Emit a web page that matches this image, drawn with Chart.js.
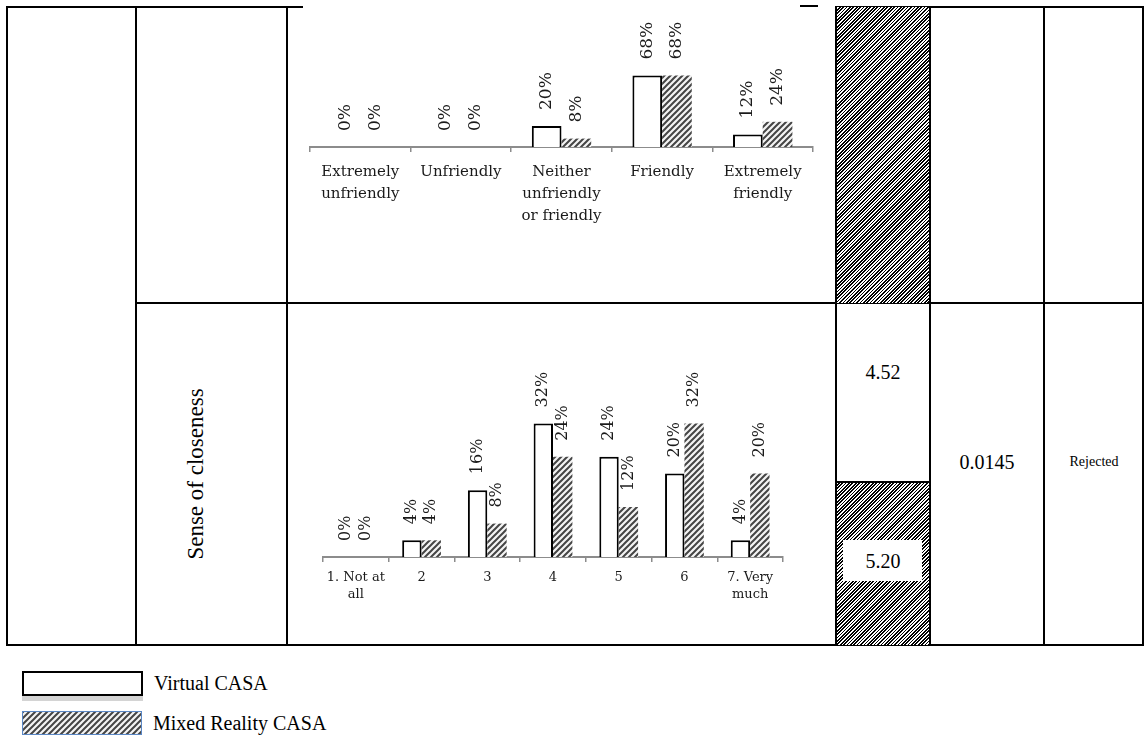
<!DOCTYPE html>
<html>
<head>
<meta charset="utf-8">
<script src="https://cdn.jsdelivr.net/npm/chart.js@4/dist/chart.umd.min.js"></script>
<style>
  html, body { margin: 0; padding: 0; background: #fff; }
  #page { position: relative; width: 1144px; height: 738px; overflow: hidden;
          font-family: "Liberation Serif", "Times New Roman", serif; color: #000; }
  .ln { position: absolute; background: #000; }
  .hatch { position: absolute;
           background: repeating-linear-gradient(135deg, #000 0 1.2px, #fff 1.2px 2.4px); }
  .box { position: absolute; background: #fff; }
  .txt { position: absolute; transform: translate(-50%, -50%); white-space: nowrap; }
  canvas { position: absolute; }
  .legend-row { position: absolute; left: 22px; display: flex; align-items: center; }
  .legend-row span { margin-left: 11px; font-size: 20px; }
  .sw-plain { width: 117px; height: 21px; border: 2px solid #000; background: #fff;
              box-shadow: 0 5px 0 #d4d4d4; }
  .sw-hatch { position: static; border: 1.5px solid #5a87c5; }
</style>
</head>
<body>
<div id="page">
  <!-- table grid -->
  <div class="ln" style="left:6px;top:6px;width:297px;height:2px"></div>
  <div class="ln" style="left:800px;top:5px;width:18px;height:2px"></div>
  <div class="ln" style="left:835px;top:6px;width:309px;height:2px"></div>
  <div class="ln" style="left:135px;top:302px;width:1009px;height:2px"></div>
  <div class="ln" style="left:6px;top:644px;width:1138px;height:2px"></div>

  <div class="ln" style="left:6px;top:6px;width:2px;height:640px"></div>
  <div class="ln" style="left:135px;top:6px;width:2px;height:640px"></div>
  <div class="ln" style="left:286px;top:6px;width:2px;height:640px"></div>

  <!-- mean column: hatched where Mixed Reality CASA is shown -->
  <div class="hatch" style="left:836px;top:7px;width:94px;height:296px"></div>
  <div class="hatch" style="left:836px;top:482px;width:94px;height:163px"></div>
  <div class="ln" style="left:836px;top:481px;width:94px;height:2px"></div>
  <div class="box" style="left:843px;top:540px;width:79px;height:41px"></div>

  <div class="ln" style="left:835px;top:6px;width:2px;height:640px"></div>
  <div class="ln" style="left:929px;top:6px;width:2px;height:640px"></div>
  <div class="ln" style="left:1043px;top:6px;width:2px;height:640px"></div>
  <div class="ln" style="left:1142px;top:6px;width:2px;height:640px"></div>

  <div id="rowLabel" class="txt" style="left:196px;top:474px;font-size:23px;transform:translate(-50%,-50%) rotate(-90deg)"></div>
  <div id="meanV" class="txt" style="left:883px;top:372px;font-size:20px"></div>
  <div id="meanM" class="txt" style="left:883px;top:561px;font-size:20px"></div>
  <div id="pval" class="txt" style="left:987px;top:462px;font-size:20px"></div>
  <div id="decision" class="txt" style="left:1094px;top:462px;font-size:14px"></div>

  <canvas id="friendChart" width="547" height="294" style="left:288px;top:8px"></canvas>
  <canvas id="closeChart" width="547" height="340" style="left:288px;top:304px"></canvas>

  <div class="legend-row" style="top:671px"><div class="sw-plain"></div><span id="legV"></span></div>
  <div class="legend-row" style="top:711px"><canvas id="swM" class="sw-hatch" width="118" height="22"></canvas><span id="legM"></span></div>
</div>

<script>
// ---- data ----
const seriesNames = ["Virtual CASA", "Mixed Reality CASA"];

const friendCats = [["Extremely", "unfriendly"], "Unfriendly", ["Neither", "unfriendly", "or friendly"], "Friendly", ["Extremely", "friendly"]];
const friendVirtual = [0, 0, 20, 68, 12];
const friendMixed   = [0, 0, 8, 68, 24];

const closeCats = [["1. Not at", "all"], "2", "3", "4", "5", "6", ["7. Very", "much"]];
const closeVirtual = [0, 4, 16, 32, 24, 20, 4];
const closeMixed   = [0, 4, 8, 24, 12, 32, 20];

const rowLabel = "Sense of closeness";
const meanVirtual = "4.52";
const meanMixed = "5.20";
const pValue = "0.0145";
const decision = "Rejected";

// ---- text cells ----
document.getElementById("rowLabel").textContent = rowLabel;
document.getElementById("meanV").textContent = meanVirtual;
document.getElementById("meanM").textContent = meanMixed;
document.getElementById("pval").textContent = pValue;
document.getElementById("decision").textContent = decision;
document.getElementById("legV").textContent = seriesNames[0];
document.getElementById("legM").textContent = seriesNames[1];

// diagonal hatch used for the Mixed Reality series
function makeHatch(ctx) {
  const c = document.createElement("canvas");
  c.width = 6; c.height = 6;
  const g = c.getContext("2d");
  g.fillStyle = "#f4f4f4";
  g.fillRect(0, 0, 6, 6);
  g.strokeStyle = "#454545";
  g.lineWidth = 2;
  g.beginPath();
  g.moveTo(-1, 7); g.lineTo(7, -1);
  g.moveTo(-1, 1); g.lineTo(1, -1);
  g.moveTo(5, 7);  g.lineTo(7, 5);
  g.stroke();
  return ctx.createPattern(c, "repeat");
}

// legend swatch
(function () {
  const cv = document.getElementById("swM");
  const ctx = cv.getContext("2d");
  ctx.fillStyle = makeHatch(ctx);
  ctx.fillRect(0, 0, cv.width, cv.height);
})();

// rotated percentage labels above each bar
const valueLabels = {
  id: "valueLabels",
  afterDatasetsDraw(chart, args, opts) {
    const ctx = chart.ctx;
    ctx.save();
    ctx.font = opts.size + 'px "DejaVu Serif"';
    ctx.fillStyle = "#1a1a1a";
    ctx.textAlign = "left";
    ctx.textBaseline = "middle";
    chart.data.datasets.forEach((ds, i) => {
      chart.getDatasetMeta(i).data.forEach((bar, j) => {
        ctx.save();
        ctx.translate(bar.x, bar.y - opts.gap);
        ctx.rotate(-Math.PI / 2);
        ctx.fillText(ds.data[j] + "%", 0, 0);
        ctx.restore();
      });
    });
    ctx.restore();
  }
};

function buildChart(id, cats, a, b, o) {
  const el = document.getElementById(id);
  const hatch = makeHatch(el.getContext("2d"));
  return new Chart(el, {
    type: "bar",
    data: {
      labels: cats,
      datasets: [
        { label: seriesNames[0], data: a, backgroundColor: "#ffffff", borderColor: "#000000",
          borderWidth: 2, categoryPercentage: 0.59, barPercentage: 1 },
        { label: seriesNames[1], data: b, backgroundColor: hatch, borderWidth: 0,
          categoryPercentage: 0.59, barPercentage: 1 }
      ]
    },
    options: {
      responsive: false,
      animation: false,
      events: [],
      layout: { padding: o.pad },
      plugins: {
        legend: { display: false },
        tooltip: { enabled: false },
        valueLabels: { size: o.labelSize, gap: 16 }
      },
      scales: {
        x: {
          grid: { display: true, drawOnChartArea: false, drawTicks: true, tickLength: 5,
                  color: "#8c8c8c", lineWidth: 1.5, offset: true },
          border: { display: true, color: "#8c8c8c", width: 2 },
          ticks: { color: "#1a1a1a", padding: o.tickPad, maxRotation: 0, autoSkip: false,
                   font: { family: "DejaVu Serif", size: o.fontSize, lineHeight: o.lineHeight } },
          afterFit: s => { s.height = o.axisH; }
        },
        y: { display: false, min: 0, max: o.yMax }
      }
    },
    plugins: [valueLabels]
  });
}

buildChart("friendChart", friendCats, friendVirtual, friendMixed, {
  pad: { left: 22, right: 22, top: 34, bottom: 55 }, axisH: 100, yMax: 100,
  fontSize: 15, lineHeight: "22px", tickPad: 9, labelSize: 17
});

buildChart("closeChart", closeCats, closeVirtual, closeMixed, {
  pad: { left: 35, right: 52, top: 86, bottom: 27 }, axisH: 60, yMax: 40,
  fontSize: 13, lineHeight: "17px", tickPad: 7, labelSize: 16
});
</script>
</body>
</html>
